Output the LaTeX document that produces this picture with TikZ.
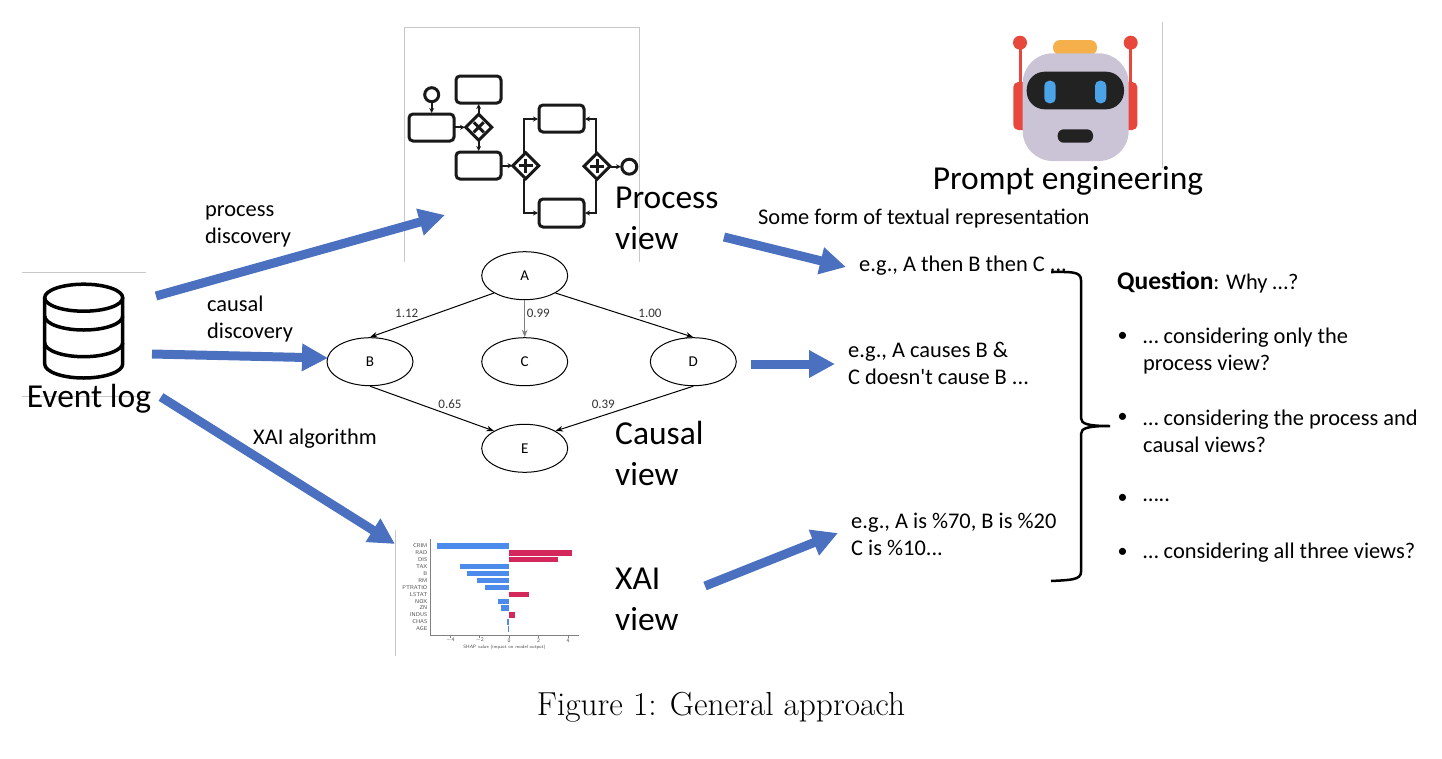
\documentclass[tikz,border=0pt]{standalone}
\usepackage{fontspec}
\usepackage{tikz}
\usetikzlibrary{arrows.meta}
\usetikzlibrary{shapes.geometric}
\newfontfamily\calibrilike{Carlito}
\definecolor{flowblue}{HTML}{4A70BF}
\definecolor{framegray}{HTML}{C8C8C8}
\definecolor{shapblue}{HTML}{4C8BEB}
\definecolor{shapred}{HTML}{D4285C}
\definecolor{robotred}{HTML}{E8483C}
\definecolor{robotgold}{HTML}{F5B04C}
\definecolor{robotbody}{HTML}{CBC3D6}
\definecolor{robotdark}{HTML}{222222}
\definecolor{roboteye}{HTML}{4BA3E8}
\tikzset{
  blockarrow/.style={draw=flowblue, line width=9pt, -{Triangle[length=26pt,width=26pt]}},
  smalltext/.style={font=\calibrilike\fontsize{22.4}{27}\selectfont, align=left, anchor=west, inner sep=0pt},
  viewtext/.style={font=\calibrilike\fontsize{33.5}{41}\selectfont, align=left, anchor=west, inner sep=0pt},
  causalnode/.style={draw, ellipse, line width=1pt, minimum width=86pt, minimum height=48pt, inner sep=0pt, font=\calibrilike\fontsize{15}{17}\selectfont},
  causaledge/.style={->, >=Stealth, line width=1pt},
  weighttext/.style={font=\calibrilike\fontsize{13}{15}\selectfont, inner sep=0pt, text=black!80},
  bpmnbox/.style={draw=black!90, line width=3pt, rounded corners=4pt},
  bpmnline/.style={draw=black!90, line width=2pt, -{Stealth[length=5pt,width=5pt]}},
  framelines/.style={draw=framegray, line width=1pt},
}
\begin{document}
\begin{tikzpicture}[x=1pt,y=-1pt]

    % Fix the page to the reference size
    \useasboundingbox (0,0) rectangle (1442,758);

    % Thin frames left over round the pictures
    \draw[framelines] (404.5,262) -- (404.5,27.5) -- (639.5,27.5) -- (639.5,262);
    \draw[framelines] (1162.5,22) -- (1162.5,168);
    \draw[framelines] (22,272.5) -- (146,272.5);
    \draw[framelines] (22,396) -- (146,396);
    \draw[framelines] (395.5,530) -- (395.5,656);

    % Draw event log cylinder
    \begin{scope}[line width=3.5pt]
        \draw (83.7,297.7) ellipse (39 and 13.5);
        \draw (44.7,297.7) -- (44.7,364) arc[start angle=180, end angle=0, x radius=39, y radius=14] -- (122.7,297.7);
        \draw (44.7,316) arc[start angle=180, end angle=0, x radius=39, y radius=14];
        \draw (44.7,342.7) arc[start angle=180, end angle=0, x radius=39, y radius=14];
    \end{scope}
    \node[viewtext, anchor=center] (eventlog) at (89,398.5) {Event log};

    % Draw process model
    \draw[bpmnbox] (409,114) rectangle (454,141);
    \draw[bpmnbox] (456,76) rectangle (501,103);
    \draw[bpmnbox] (456,152) rectangle (501,179);
    \draw[bpmnbox] (539,105) rectangle (584,132);
    \draw[bpmnbox] (539,199) rectangle (584,227);
    \draw[black!90, line width=3pt] (431.7,94.7) circle (7);
    \draw[black!90, line width=3pt] (629.3,166.7) circle (7.5);
    \foreach \gatex/\gatey in {478.7/127.3, 525.7/165.7, 597/166.3} {
        \draw[black!90, line width=3pt] (\gatex-13,\gatey) -- (\gatex,\gatey-13) -- (\gatex+13,\gatey) -- (\gatex,\gatey+13) -- cycle;
    }
    \draw[black!90, line width=3pt] (473.7,122.3) -- (483.7,132.3) (473.7,132.3) -- (483.7,122.3);
    \draw[black!90, line width=3pt] (518.7,165.7) -- (532.7,165.7) (525.7,158.7) -- (525.7,172.7);
    \draw[black!90, line width=3pt] (590,166.3) -- (604,166.3) (597,159.3) -- (597,173.3);
    \draw[bpmnline] (431.7,102) -- (431.7,113);
    \draw[bpmnline] (454,127.3) -- (465,127.3);
    \draw[bpmnline] (478.7,114) -- (478.7,104);
    \draw[bpmnline] (478.7,140.5) -- (478.7,151);
    \draw[bpmnline] (501,165.7) -- (512.5,165.7);
    \draw[bpmnline] (524,152.5) -- (524,119) -- (538,119);
    \draw[bpmnline] (524,179) -- (524,213) -- (538,213);
    \draw[bpmnline] (596,153) -- (596,119) -- (585,119);
    \draw[bpmnline] (596,179.5) -- (596,213) -- (585,213);
    \draw[bpmnline] (610,166.7) -- (621,166.7);
    \node[viewtext] (processview) at (615,218.5) {Process\\view};

    % Draw robot
    \draw[line width=3pt, draw=robotred] (1020,42) -- (1020,90);
    \draw[line width=3pt, draw=robotred] (1130.7,42) -- (1130.7,90);
    \fill[robotred] (1020,42.7) circle (7) (1130.7,42.7) circle (7);
    \fill[robotred, rounded corners=5pt] (1013.3,82) rectangle (1030,130);
    \fill[robotred, rounded corners=5pt] (1120,82) rectangle (1137.3,130);
    \fill[robotgold, rounded corners=7pt] (1053,40) rectangle (1097,55);
    \fill[robotbody, rounded corners=30pt] (1022.7,53.3) rectangle (1128.7,161);
    \fill[robotdark, rounded corners=18pt] (1026.7,71.7) rectangle (1124,109.3);
    \fill[roboteye, rounded corners=5pt] (1044.3,80.7) rectangle (1055.7,103.3);
    \fill[roboteye, rounded corners=5pt] (1095,80.7) rectangle (1106.3,103.3);
    \fill[robotdark, rounded corners=6pt] (1057.7,129.3) rectangle (1093,142.7);
    \node[viewtext, anchor=center] (promptlabel) at (1068,181) {Prompt engineering};

    % Draw causal graph
    \node[causalnode] (A) at (524.7,275.7) {A};
    \node[causalnode] (B) at (370,361.7) {B};
    \node[causalnode] (C) at (524.7,361.7) {C};
    \node[causalnode] (D) at (693.3,361.7) {D};
    \node[causalnode] (E) at (524.7,448.3) {E};
    \draw[causaledge] (A.south west) -- (B.north);
    \draw[causaledge, gray] (A.south) -- (C.north);
    \draw[causaledge] (A.south east) -- (D.north);
    \draw[causaledge] (B.south) -- (E.north west);
    \draw[causaledge] (D.south) -- (E.north east);
    \node[weighttext] (wab) at (406.7,313.3) {1.12};
    \node[weighttext] (wac) at (538.3,313.3) {0.99};
    \node[weighttext] (wad) at (650,313.3) {1.00};
    \node[weighttext] (wbe) at (450,404) {0.65};
    \node[weighttext] (wde) at (603.3,404) {0.39};
    \node[viewtext] (causalview) at (615,453) {Causal\\view};

    % Draw SHAP bar chart
    \begin{scope}[font=\sffamily\fontsize{5.5}{6}\selectfont, text=black!70]
        \foreach \rowname/\rowy/\rowend/\rowcol in {CRIM/546/437.3/shapblue, RAD/553/571.7/shapred, DIS/559.7/558/shapred, TAX/566.7/460/shapblue, B/573.7/467.3/shapblue, RM/580.3/476.7/shapblue, PTRATIO/587.3/485.3/shapblue, LSTAT/594.3/529.3/shapred, NOX/601.3/498.3/shapblue, ZN/608/501.3/shapblue, INDUS/615/514.7/shapred, CHAS/622/507.3/shapblue, AGE/629/508/shapblue} {
            \fill[\rowcol] (509,\rowy-2.7) rectangle (\rowend,\rowy+2.7);
            \node[anchor=east, inner sep=0pt] at (427.5,\rowy) {\rowname};
        }
        \draw[black!50, line width=.6pt] (430.7,539) -- (430.7,635.7) -- (578.7,635.7);
        \foreach \tickx/\ticktext in {450.3/$-$4, 479.7/$-$2, 509/0, 538.7/2, 568/4} {
            \draw[black!50, line width=.6pt] (\tickx,635.7) -- (\tickx,637.5);
            \node[inner sep=0pt, font=\sffamily\fontsize{5.5}{6}\selectfont] at (\tickx,640.5) {\ticktext};
        }
        \node[inner sep=0pt, font=\sffamily\fontsize{4.75}{5}\selectfont] (shapaxis) at (504.5,647) {SHAP value (impact on model output)};
    \end{scope}
    \node[viewtext] (xaiview) at (615,599) {XAI\\view};

    % Arrow end points
    \coordinate (logprocess) at (156,296);
    \coordinate (logcausal) at (152,354);
    \coordinate (logxai) at (161,397);
    \coordinate (processin) at (445,215);
    \coordinate (causalin) at (328,358);
    \coordinate (xaiin) at (395,544);
    \coordinate (processout) at (724,237);
    \coordinate (processtext) at (846,267);
    \coordinate (causalout) at (751,364);
    \coordinate (causaltext) at (835,364);
    \coordinate (xaiout) at (705,586);
    \coordinate (xaitext) at (838,533);

    % Draw blue arrows
    \draw[blockarrow] (logprocess) -- (processin);
    \draw[blockarrow] (logcausal) -- (causalin);
    \draw[blockarrow] (logxai) -- (xaiin);
    \draw[blockarrow] (processout) -- (processtext);
    \draw[blockarrow] (causalout) -- (causaltext);
    \draw[blockarrow] (xaiout) -- (xaitext);

    % Draw arrow labels
    \node[smalltext] (processdisc) at (205,226.5) {process\\discovery};
    \node[smalltext] (causaldisc) at (207,319.5) {causal\\discovery};
    \node[smalltext] (xailabel) at (253,439) {XAI algorithm};
    \node[smalltext] (textform) at (758,219) {Some form of textual representation};

    % Draw example texts
    \node[smalltext] (exprocess) at (859,266) {e.g., A then B then C ...};
    \node[smalltext] (excausal) at (848,363.5) {e.g., A causes B \&\\C doesn't cause B ...};
    \node[smalltext] (exxai) at (851,534.5) {e.g., A is \%70, B is \%20\\C is \%10...};

    % Draw curly brace
    \draw[line width=2.5pt] (1051,272) .. controls (1070,272) and (1081,271) .. (1081,280)
        -- (1081,418) .. controls (1081,424) and (1088,426) .. (1110,426)
        .. controls (1088,426) and (1081,428) .. (1081,434)
        -- (1081,572) .. controls (1081,580) and (1070,580) .. (1051,581);

    % Draw question list
    \node[smalltext] (question) at (1117,282) {{\bfseries\fontsize{25.5}{27}\selectfont Question}: Why …?};
    \foreach \bulletname/\bullety in {one/337, two/418, three/498.5, four/552.5} {
        \node[smalltext, font=\calibrilike\fontsize{20}{20}\selectfont] (bullet\bulletname) at (1117.5,\bullety) {•};
    }
    \node[smalltext] (itemone) at (1143,351.5) {… considering only the\\process view?};
    \node[smalltext] (itemtwo) at (1143,431.5) {… considering the process and\\causal views?};
    \node[smalltext] (itemthree) at (1143,500) {…..};
    \node[smalltext] (itemfour) at (1143,553) {… considering all three views?};

    % Draw caption
    \node[font=\fontsize{33.3}{36}\selectfont, inner sep=0pt] (caption) at (721,707) {Figure 1:  General approach};
\end{tikzpicture}
\end{document}
